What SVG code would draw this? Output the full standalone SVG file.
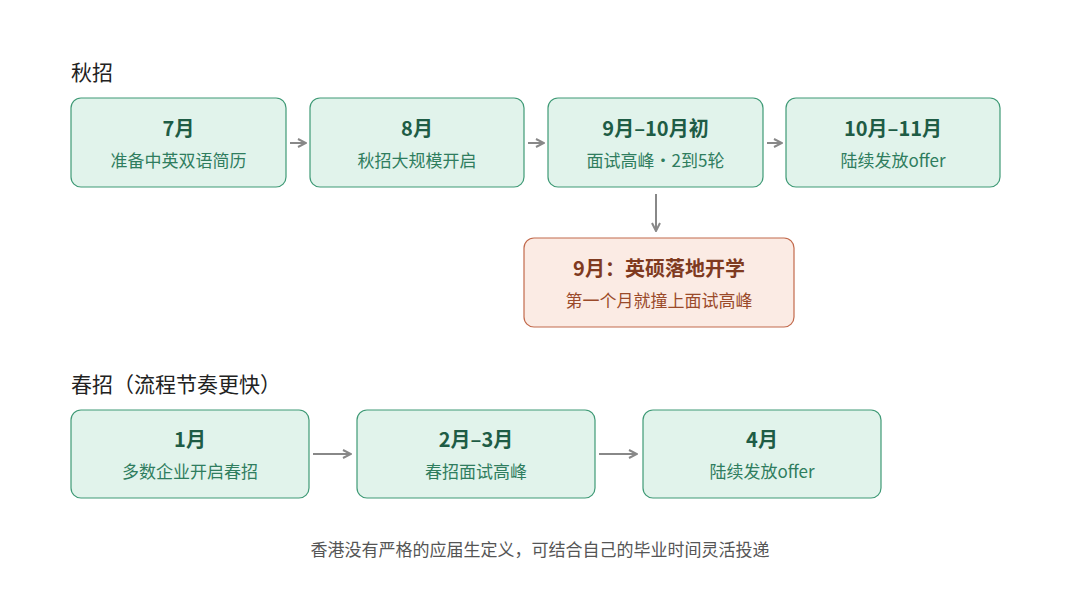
<svg xmlns="http://www.w3.org/2000/svg" width="1080" height="591" viewBox="0 0 1080 591">
<style>
text{font-family:"Noto Sans CJK SC","Noto Sans",sans-serif;text-anchor:middle}
.g rect{fill:#e1f3eb;stroke:#3f9a76;stroke-width:1.2}
.g .t{fill:#1e5c45;font-size:20px;font-weight:600}
.g .s{fill:#2f7d5e;font-size:17px}
.r rect{fill:#fbebe4;stroke:#c26a4c;stroke-width:1.2}
.r .t{fill:#7f3a1f;font-size:20px;font-weight:600}
.r .s{fill:#9a4a2a;font-size:17px}
.h{fill:#222;font-size:21px;text-anchor:start}
#edges line{stroke:#888;stroke-width:2}
</style>
<defs><marker id="a" viewBox="0 0 10 10" refX="9" refY="5" markerWidth="10" markerHeight="10" markerUnits="userSpaceOnUse" orient="auto"><path d="M1,1 L9,5 L1,9" fill="none" stroke="#888" stroke-width="2"/></marker></defs>
<rect width="1080" height="591" fill="#fff"/>
<text class="h" x="71" y="80">秋招</text>
<text class="h" x="71" y="392">春招（流程节奏更快）</text>
<g id="n1" class="g"><rect x="71" y="98" width="215" height="89" rx="10"/><text class="t" x="178.5" y="136">7月</text><text class="s" x="178.5" y="167">准备中英双语简历</text></g>
<g id="n2" class="g"><rect x="310" y="98" width="214" height="89" rx="10"/><text class="t" x="417" y="136">8月</text><text class="s" x="417" y="167">秋招大规模开启</text></g>
<g id="n3" class="g"><rect x="548" y="98" width="215" height="89" rx="10"/><text class="t" x="655.5" y="136">9月–10月初</text><text class="s" x="655.5" y="167">面试高峰·2到5轮</text></g>
<g id="n4" class="g"><rect x="786" y="98" width="214" height="89" rx="10"/><text class="t" x="893" y="136">10月–11月</text><text class="s" x="893" y="167">陆续发放offer</text></g>
<g id="n5" class="r"><rect x="524" y="238" width="270" height="89" rx="10"/><text class="t" x="659" y="276">9月：英硕落地开学</text><text class="s" x="659" y="307">第一个月就撞上面试高峰</text></g>
<g id="n6" class="g"><rect x="71" y="410" width="238" height="88" rx="10"/><text class="t" x="190" y="447">1月</text><text class="s" x="190" y="478">多数企业开启春招</text></g>
<g id="n7" class="g"><rect x="357" y="410" width="238" height="88" rx="10"/><text class="t" x="476" y="447">2月–3月</text><text class="s" x="476" y="478">春招面试高峰</text></g>
<g id="n8" class="g"><rect x="643" y="410" width="238" height="88" rx="10"/><text class="t" x="762" y="447">4月</text><text class="s" x="762" y="478">陆续发放offer</text></g>
<g id="edges">
<line x1="290" y1="143" x2="306" y2="143" marker-end="url(#a)"/>
<line x1="528" y1="143" x2="544" y2="143" marker-end="url(#a)"/>
<line x1="767" y1="143" x2="782" y2="143" marker-end="url(#a)"/>
<line x1="656" y1="194" x2="656" y2="231" marker-end="url(#a)"/>
<line x1="313" y1="454" x2="351" y2="454" marker-end="url(#a)"/>
<line x1="599" y1="454" x2="637" y2="454" marker-end="url(#a)"/>
</g>
<text x="540" y="556" style="fill:#555;font-size:17px">香港没有严格的应届生定义，可结合自己的毕业时间灵活投递</text>
</svg>
